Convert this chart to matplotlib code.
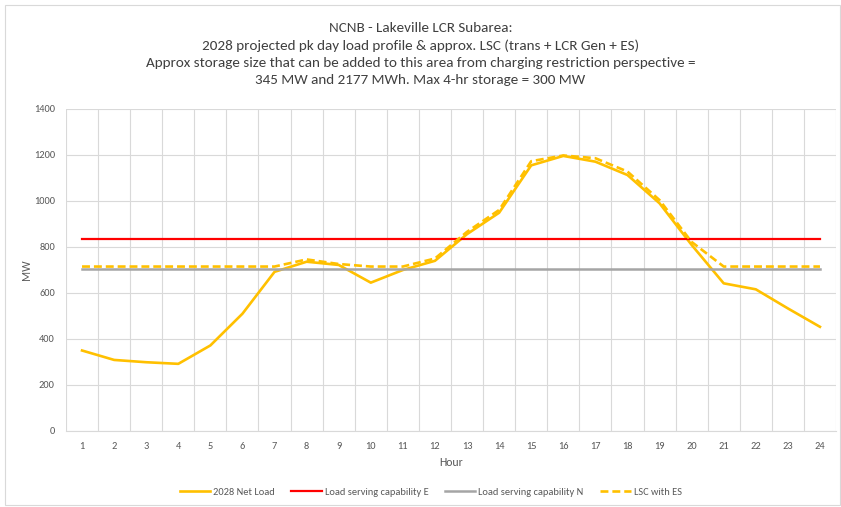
import matplotlib
matplotlib.use("Agg")
import matplotlib.pyplot as plt
from matplotlib.patches import Rectangle

hours = list(range(1, 25))
net_load = [350, 309, 299, 292, 372, 510, 692, 736, 722, 645, 700, 740,
            856, 949, 1155, 1196, 1171, 1113, 990, 809, 642, 616, 533, 453]
lsc_e = [833] * 24
lsc_n = [703] * 24
lsc_es = [715, 715, 715, 715, 715, 715, 715, 746, 726, 715, 715, 750,
          866, 961, 1173, 1198, 1186, 1128, 1004, 822, 715, 715, 715, 715]

plt.rcParams['font.family'] = ['Carlito', 'Lato', 'DejaVu Sans']
text_col = '#595959'

fig = plt.figure(figsize=(8.41, 5.07), dpi=100)
ax = fig.add_axes([66 / 841, 1 - 431 / 507, 770 / 841, 322 / 507])

ax.plot(hours, net_load, color='#ffc000', lw=1.9, label='2028 Net Load')
ax.plot(hours, lsc_e, color='#ff0000', lw=1.6, label='Load serving capability E')
ax.plot(hours, lsc_n, color='#a5a5a5', lw=1.8, label='Load serving capability N')
ax.plot(hours, lsc_es, color='#ffc000', lw=1.9, ls=(0, (3, 1.5)), label='LSC with ES')

ax.set_xlim(0.5, 24.5)
ax.set_ylim(0, 1400)
ax.set_yticks(range(0, 1401, 200))
ax.set_xticks(hours)
ax.set_xticks([h + 0.5 for h in range(0, 25)], minor=True)
ax.grid(True, which='minor', axis='x', color='#d9d9d9', lw=0.8)
ax.grid(True, which='major', axis='y', color='#d9d9d9', lw=0.8)
ax.set_axisbelow(True)
ax.tick_params(which='both', length=0, labelsize=7.5, colors=text_col, pad=8)
for s in ['top', 'right', 'left']:
    ax.spines[s].set_visible(False)
ax.spines['bottom'].set_color('#d9d9d9')

ax.set_xlabel('Hour', fontsize=8.5, color=text_col, labelpad=4)
ax.set_ylabel('MW', fontsize=8.5, color=text_col, labelpad=1)

title = ("NCNB - Lakeville LCR Subarea:\n"
         "2028 projected pk day load profile & approx. LSC (trans + LCR Gen + ES)\n"
         "Approx storage size that can be added to this area from charging restriction perspective =\n"
         "345 MW and 2177 MWh. Max 4-hr storage = 300 MW")
fig.text(0.5, 1 - 54 / 507, title, ha='center', va='center', fontsize=10.9,
         color='#404040', linespacing=1.5)

fig.legend(loc='center', bbox_to_anchor=(0.512, 1 - 492 / 507), ncol=4,
           frameon=False, fontsize=7.5, labelcolor=text_col, handlelength=2.9,
           columnspacing=1.6, handletextpad=0.3)

fig.patches.append(Rectangle((5 / 841, 2 / 507), 835 / 841, 500 / 507,
                             transform=fig.transFigure, fill=False,
                             edgecolor='#d9d9d9', lw=0.8))

fig.savefig('out.png', dpi=100, facecolor='white')
